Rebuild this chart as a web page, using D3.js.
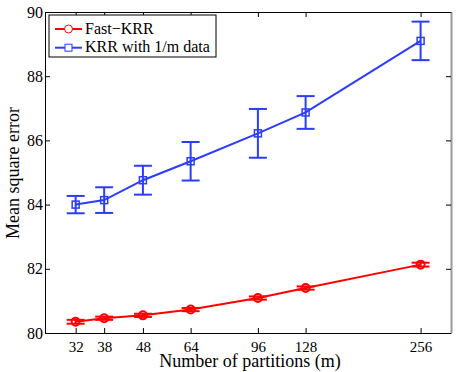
<!DOCTYPE html>
<html>
<head>
<meta charset="utf-8">
<script src="https://cdn.jsdelivr.net/npm/d3@7"></script>
</head>
<body style="margin:0; background:#fff">
<div id="chart"></div>
<script>
// データ
var partitions = [32, 38, 48, 64, 96, 128, 256];
var fastKrr = [80.35, 80.46, 80.55, 80.73, 81.09, 81.40, 82.13];
var fastKrrErr = [0.06, 0.05, 0.05, 0.05, 0.05, 0.05, 0.06];
var krrSub = [84.00, 84.14, 84.76, 85.35, 86.22, 86.87, 89.10];
var krrSubErr = [0.27, 0.40, 0.45, 0.60, 0.76, 0.51, 0.60];
var yTicks = [80, 82, 84, 86, 88, 90];

var FONT = "Liberation Serif, Times New Roman, serif";
var width = 457, height = 372;
var margin = { top: 12, right: 6, bottom: 39, left: 45 };

var svg = d3.select("#chart").append("svg")
  .attr("width", width)
  .attr("height", height)
  .attr("font-family", FONT);

var x = d3.scaleLog()
  .domain([26.6, 307.5])
  .range([margin.left, width - margin.right]);
var y = d3.scaleLinear()
  .domain([80, 90])
  .range([height - margin.bottom, margin.top]);

var x0 = x.range()[0], x1 = x.range()[1];
var y0 = y.range()[0], y1 = y.range()[1];

// 右側の影
svg.append("line")
  .attr("x1", x1 + 0.5).attr("x2", x1 + 0.5)
  .attr("y1", y1).attr("y2", y0)
  .attr("stroke", "#999").attr("stroke-width", 2);

// 軸
var tickLen = 5;
var bottomAxis = d3.axisBottom(x).tickValues(partitions).tickFormat(d3.format("d"))
  .tickSizeInner(-tickLen).tickSizeOuter(0).tickPadding(8);
var topAxis = d3.axisTop(x).tickValues(partitions).tickFormat("")
  .tickSizeInner(-tickLen).tickSizeOuter(0);
var leftAxis = d3.axisLeft(y).tickValues(yTicks).tickFormat(d3.format("d"))
  .tickSizeInner(-tickLen).tickSizeOuter(0).tickPadding(2);
var rightAxis = d3.axisRight(y).tickValues(yTicks).tickFormat("")
  .tickSizeInner(-tickLen).tickSizeOuter(0);

function styleAxis(size) {
  return function(g) {
    g.attr("font-family", FONT).attr("font-size", size);
    g.select(".domain").attr("stroke", "#000");
    g.selectAll(".tick line").attr("stroke", "#000");
    g.selectAll(".tick text")
      .attr("fill", "#000")
      .attr("font-family", FONT)
      .attr("font-size", size);
  };
}

svg.append("g").attr("transform", "translate(0," + y0 + ")").call(bottomAxis).call(styleAxis(15));
svg.append("g").attr("transform", "translate(0," + y1 + ")").call(topAxis).call(styleAxis(15));
svg.append("g").attr("transform", "translate(" + x0 + ",0)").call(leftAxis).call(styleAxis(16));
svg.append("g").attr("transform", "translate(" + x1 + ",0)").call(rightAxis).call(styleAxis(16))
  .select(".domain").attr("stroke", "#999");

// ラベル
svg.append("text")
  .attr("x", 250).attr("y", 367)
  .attr("text-anchor", "middle")
  .attr("font-family", FONT)
  .attr("font-size", 18)
  .text("Number of partitions (m)");
svg.append("text")
  .attr("transform", "translate(18.5,173) rotate(-90)")
  .attr("text-anchor", "middle")
  .attr("font-family", FONT)
  .attr("font-size", 18)
  .text("Mean square error");

var series = [
  { name: "Fast\u2212KRR", values: fastKrr, err: fastKrrErr, color: "#ff0000", marker: "circle" },
  { name: "KRR with 1/m data", values: krrSub, err: krrSubErr, color: "#2b3cff", marker: "square" }
];

var capW = 9;
var line = d3.line()
  .x(function(d) { return x(d[0]); })
  .y(function(d) { return y(d[1]); });

series.forEach(function(s) {
  var pts = partitions.map(function(p, i) { return [p, s.values[i], s.err[i]]; });
  var g = svg.append("g");

  // エラーバー
  var eb = g.selectAll(".eb").data(pts).enter().append("g");
  eb.append("line")
    .attr("x1", function(d) { return x(d[0]); })
    .attr("x2", function(d) { return x(d[0]); })
    .attr("y1", function(d) { return y(d[1] - d[2]); })
    .attr("y2", function(d) { return y(d[1] + d[2]); })
    .attr("stroke", s.color).attr("stroke-width", 2);
  [-1, 1].forEach(function(sign) {
    eb.append("line")
      .attr("x1", function(d) { return x(d[0]) - capW; })
      .attr("x2", function(d) { return x(d[0]) + capW; })
      .attr("y1", function(d) { return y(d[1] + sign * d[2]); })
      .attr("y2", function(d) { return y(d[1] + sign * d[2]); })
      .attr("stroke", s.color).attr("stroke-width", 2);
  });

  g.append("path")
    .datum(pts)
    .attr("d", line)
    .attr("fill", "none")
    .attr("stroke", s.color)
    .attr("stroke-width", 2);

  if (s.marker == "circle") {
    g.selectAll("circle").data(pts).enter().append("circle")
      .attr("cx", function(d) { return x(d[0]); })
      .attr("cy", function(d) { return y(d[1]); })
      .attr("r", 4)
      .attr("fill", "none").attr("stroke", s.color).attr("stroke-width", 2);
  } else {
    g.selectAll("rect").data(pts).enter().append("rect")
      .attr("x", function(d) { return x(d[0]) - 3.5; })
      .attr("y", function(d) { return y(d[1]) - 3.5; })
      .attr("width", 7).attr("height", 7)
      .attr("fill", "none").attr("stroke", s.color).attr("stroke-width", 1.5);
  }
});

// 凡例
var legend = svg.append("g").attr("transform", "translate(49,15)");
legend.append("rect")
  .attr("x", 0).attr("y", 0)
  .attr("width", 167).attr("height", 42)
  .attr("fill", "#fff").attr("stroke", "#000").attr("stroke-width", 1);
series.forEach(function(s, i) {
  var ly = 14 + i * 18.7;
  legend.append("line")
    .attr("x1", 6).attr("x2", 33).attr("y1", ly).attr("y2", ly)
    .attr("stroke", s.color).attr("stroke-width", 2);
  if (s.marker == "circle") {
    legend.append("circle").attr("cx", 19.5).attr("cy", ly).attr("r", 4)
      .attr("fill", "#fff").attr("stroke", s.color).attr("stroke-width", 1);
  } else {
    legend.append("rect").attr("x", 16).attr("y", ly - 3.5).attr("width", 7).attr("height", 7)
      .attr("fill", "#fff").attr("stroke", s.color).attr("stroke-width", 1);
  }
  legend.append("text")
    .attr("x", 36).attr("y", ly + 4.5)
    .attr("font-family", FONT)
    .attr("font-size", 16)
    .text(s.name);
});
</script>
</body>
</html>
